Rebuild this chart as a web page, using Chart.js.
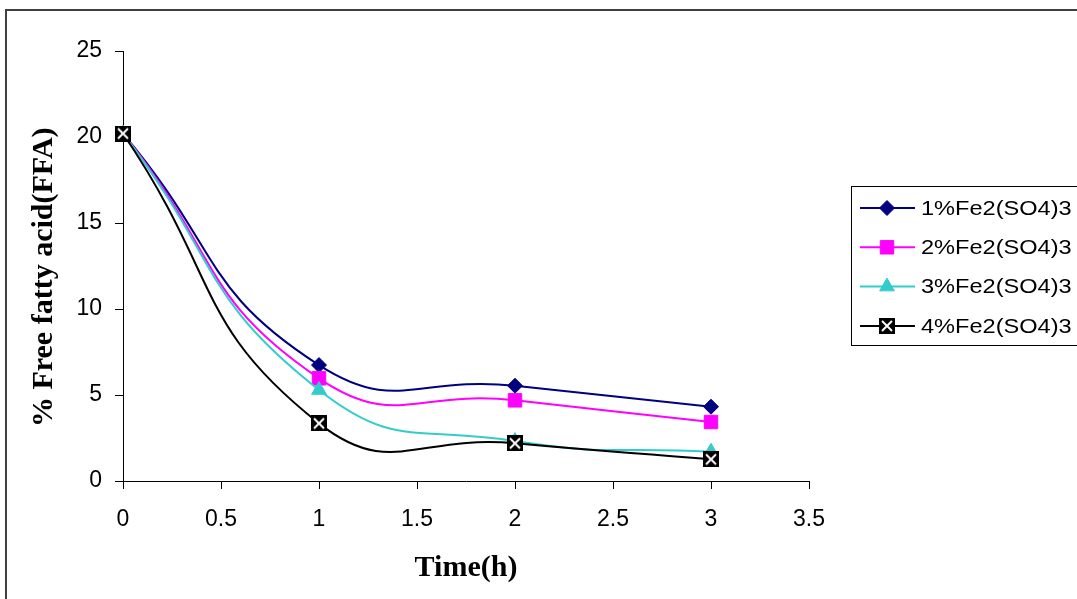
<!DOCTYPE html>
<html>
<head>
<meta charset="utf-8">
<script src="https://cdn.jsdelivr.net/npm/chart.js@4.4.1/dist/chart.umd.min.js"></script>
<style>
  body { margin: 0; background: #fff; }
</style>
</head>
<body>
<canvas id="myChart" width="1077" height="599"></canvas>
<script>
const ctx = document.querySelector('#myChart').getContext('2d');

// values
const times = [0, 1, 2, 3];
const ffa1 = [20.2, 6.74, 5.54, 4.32];
const ffa2 = [20.2, 5.97, 4.69, 3.43];
const ffa3 = [20.2, 5.29, 2.32, 1.70];
const ffa4 = [20.2, 3.35, 2.19, 1.26];
const labels = ['1%Fe2(SO4)3', '2%Fe2(SO4)3', '3%Fe2(SO4)3', '4%Fe2(SO4)3'];
const xTicks = [0, 0.5, 1, 1.5, 2, 2.5, 3, 3.5];
const yTicks = [0, 5, 10, 15, 20, 25];

// black square with a white cross, like the excel marker
const crossBox = document.createElement('canvas');
crossBox.width = 16;
crossBox.height = 16;
const cb = crossBox.getContext('2d');
cb.fillStyle = '#000';
cb.fillRect(0, 0, 16, 16);
cb.strokeStyle = '#fff';
cb.lineWidth = 2;
cb.beginPath();
cb.moveTo(3, 3); cb.lineTo(13, 13);
cb.moveTo(13, 3); cb.lineTo(3, 13);
cb.stroke();

function points(ys) {
    return times.map((t, i) => ({ x: t, y: ys[i] }));
}

function series(label, ys, color, style, radius, order) {
    return {
        label: label,
        data: points(ys),
        borderColor: color,
        backgroundColor: color,
        borderWidth: 2,
        pointStyle: style,
        pointRadius: radius,
        pointHoverRadius: radius,
        pointBorderWidth: 1,
        tension: 0.5,
        clip: false,
        order: order,
    };
}

const data = {
    datasets: [
        series(labels[0], ffa1, '#000080', 'rectRot', 7.5, 3),
        series(labels[1], ffa2, '#FF00FF', 'rect', 9.5, 2),
        series(labels[2], ffa3, '#33CCCC', 'triangle', 8.5, 1),
        series(labels[3], ffa4, '#000000', crossBox, 8, 0),
    ],
};

// white page with the thin frame round it
const framePlugin = {
    id: 'frame',
    beforeDraw(chart) {
        const c = chart.ctx;
        c.save();
        c.fillStyle = '#fff';
        c.fillRect(0, 0, chart.width, chart.height);
        c.strokeStyle = '#404040';
        c.lineWidth = 2;
        c.strokeRect(6, 10, 1200, 700);
        c.restore();
    }
};

// legend box on the right, line + marker samples
const legendPlugin = {
    id: 'sideLegend',
    afterDraw(chart) {
        const c = chart.ctx;
        c.save();
        c.strokeStyle = '#000';
        c.lineWidth = 1;
        c.strokeRect(851.5, 186.5, 300, 159);
        chart.data.datasets.forEach((ds, i) => {
            const y = 208 + i * 39.3;
            c.strokeStyle = ds.borderColor;
            c.lineWidth = 2;
            c.beginPath();
            c.moveTo(860, y);
            c.lineTo(915, y);
            c.stroke();
            c.fillStyle = ds.backgroundColor;
            c.lineWidth = 1;
            Chart.helpers.drawPoint(c, {
                pointStyle: ds.pointStyle,
                radius: ds.pointRadius,
                rotation: 0,
                borderWidth: 1
            }, 887, y);
            c.save();
            c.translate(921, y);
            c.scale(1.15, 1);
            c.fillStyle = '#000';
            c.font = '20.5px "Liberation Sans", Arial, sans-serif';
            c.textBaseline = 'middle';
            c.fillText(ds.label, 0, 1);
            c.restore();
        });
        c.restore();
    }
};

const tickFont = { family: '"Liberation Sans", Arial, sans-serif', size: 23 };
const titleFont = { family: '"Liberation Serif", "Times New Roman", serif', size: 30, weight: 'bold' };

const config = {
    type: 'line',
    data: data,
    plugins: [framePlugin, legendPlugin],
    options: {
        responsive: false,
        animation: false,
        layout: {
            padding: { top: 51, right: 268, left: 0, bottom: 0 }
        },
        plugins: {
            legend: { display: false },
            tooltip: { enabled: false }
        },
        scales: {
            x: {
                type: 'linear',
                min: 0,
                max: 3.5,
                afterFit(scale) { scale.height = 118; },
                afterBuildTicks(scale) { scale.ticks = xTicks.map(v => ({ value: v })); },
                grid: {
                    display: true,
                    drawOnChartArea: false,
                    drawTicks: true,
                    tickLength: 8,
                    color: '#000'
                },
                border: { display: true, color: '#000', width: 1 },
                ticks: {
                    color: '#000',
                    font: tickFont,
                    padding: 17,
                    maxRotation: 0,
                    callback: (v) => String(v)
                },
                title: {
                    display: true,
                    text: 'Time(h)',
                    color: '#000',
                    font: titleFont,
                    padding: { top: 0, bottom: 13 }
                }
            },
            y: {
                min: 0,
                max: 25,
                afterFit(scale) { scale.width = 123; },
                afterBuildTicks(scale) { scale.ticks = yTicks.map(v => ({ value: v })); },
                grid: {
                    display: true,
                    drawOnChartArea: false,
                    drawTicks: true,
                    tickLength: 8,
                    color: '#000'
                },
                border: { display: true, color: '#000', width: 1 },
                ticks: {
                    color: '#000',
                    font: tickFont,
                    padding: 13,
                    callback: (v) => String(v)
                },
                title: {
                    display: true,
                    text: '% Free fatty acid(FFA)   ',
                    color: '#000',
                    font: titleFont,
                    padding: { top: 26, bottom: 0 }
                }
            }
        }
    },
};

const myChart = new Chart(ctx, config);
</script>
</body>
</html>
